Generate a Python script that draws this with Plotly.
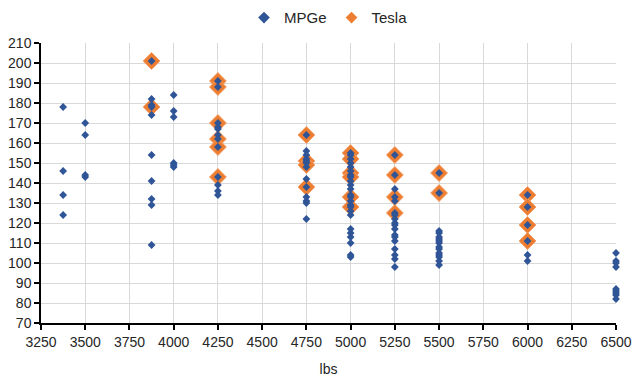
import plotly.graph_objects as go

# Vehicle weights (lbs) for each group of points
weights = [3375, 3500, 3875, 4000, 4250, 4750, 5000, 5250, 5500, 6000, 6500]

# MPGe values per weight group
mpge_3375 = [178, 146, 134, 124]
mpge_3500 = [170, 164, 144, 143]
mpge_3875 = [201, 182, 179, 178, 174, 154, 141, 132, 129, 109]
mpge_4000 = [184, 176, 173, 150, 149, 148]
mpge_4250 = [191, 188, 170, 168, 167, 164, 162, 158, 143, 139, 136, 134]
mpge_4750 = [164, 156, 154, 152, 151, 150, 148, 142, 138, 133, 131, 130, 122]
mpge_5000 = [155, 154, 152, 150, 148, 146, 144, 143, 141, 139, 137, 134, 133,
             131, 129, 128, 126, 124, 117, 115, 113, 110, 104, 103]
mpge_5250 = [154, 144, 137, 133, 131, 125, 124, 122, 120, 119, 117, 114, 113,
             111, 107, 104, 102, 98]
mpge_5500 = [145, 135, 116, 115, 113, 112, 111, 110, 108, 107, 105, 104, 103,
             101, 99]
mpge_6000 = [134, 128, 119, 111, 104, 101]
mpge_6500 = [105, 101, 100, 98, 87, 86, 85, 84, 82]

# Tesla values per weight group
tesla_3875 = [201, 178]
tesla_4250 = [191, 188, 170, 162, 158, 143]
tesla_4750 = [164, 151, 149, 138]
tesla_5000 = [155, 152, 145, 143, 133, 128]
tesla_5250 = [154, 144, 133, 125]
tesla_5500 = [145, 135]
tesla_6000 = [134, 128, 119, 111]

mpge_groups = [mpge_3375, mpge_3500, mpge_3875, mpge_4000, mpge_4250, mpge_4750,
               mpge_5000, mpge_5250, mpge_5500, mpge_6000, mpge_6500]
tesla_weights = [3875, 4250, 4750, 5000, 5250, 5500, 6000]
tesla_groups = [tesla_3875, tesla_4250, tesla_4750, tesla_5000, tesla_5250,
                tesla_5500, tesla_6000]

mpge_x, mpge_y = [], []
for w, vals in zip(weights, mpge_groups):
    mpge_x += [w] * len(vals)
    mpge_y += vals
tesla_x, tesla_y = [], []
for w, vals in zip(tesla_weights, tesla_groups):
    tesla_x += [w] * len(vals)
    tesla_y += vals

x_ticks = list(range(3250, 6501, 250))
y_ticks = list(range(70, 211, 10))

BLUE = "#2F5597"
ORANGE = "#ED7D31"

fig = go.Figure()
fig.add_trace(go.Scatter(
    x=tesla_x, y=tesla_y, mode="markers", name="Tesla", showlegend=False,
    cliponaxis=False,
    marker=dict(symbol="diamond", size=13, color=ORANGE,
                line=dict(color="#F4A06A", width=1))))
fig.add_trace(go.Scatter(
    x=mpge_x, y=mpge_y, mode="markers", name="MPGe", showlegend=False,
    cliponaxis=False,
    marker=dict(symbol="diamond", size=6, color=BLUE, line=dict(width=0))))
# legend entries
fig.add_trace(go.Scatter(x=[None], y=[None], mode="markers", name="MPGe",
                         marker=dict(symbol="diamond", size=9, color=BLUE)))
fig.add_trace(go.Scatter(x=[None], y=[None], mode="markers", name="Tesla",
                         marker=dict(symbol="diamond", size=9, color=ORANGE)))

axis_common = dict(showline=True, linecolor="black", linewidth=1.5,
                   ticks="outside", ticklen=5, tickcolor="black", tickwidth=1.5,
                   showgrid=True, gridcolor="#D9D9D9", gridwidth=1,
                   zeroline=False,
                   tickfont=dict(family="Liberation Sans", size=14, color="#262626"))

# page body has an 8px margin, so the figure is sized to fit the 640x377 window
fig.update_layout(
    width=632, height=369,
    margin=dict(l=33, r=24, t=35, b=54, autoexpand=False),
    paper_bgcolor="white", plot_bgcolor="white",
    font=dict(family="Liberation Sans", size=14, color="#262626"),
    legend=dict(orientation="h", x=0.5, xanchor="center", y=1.09, yanchor="middle",
                font=dict(size=15), itemwidth=30, tracegroupgap=0),
    xaxis=dict(range=[3250, 6500], tickvals=x_ticks, ticktext=[str(v) for v in x_ticks],
               title=dict(text="lbs", font=dict(size=14), standoff=16), **axis_common),
    yaxis=dict(range=[70, 210], tickvals=y_ticks, ticktext=[str(v) for v in y_ticks],
               **axis_common),
)

fig.write_html("out.html")
